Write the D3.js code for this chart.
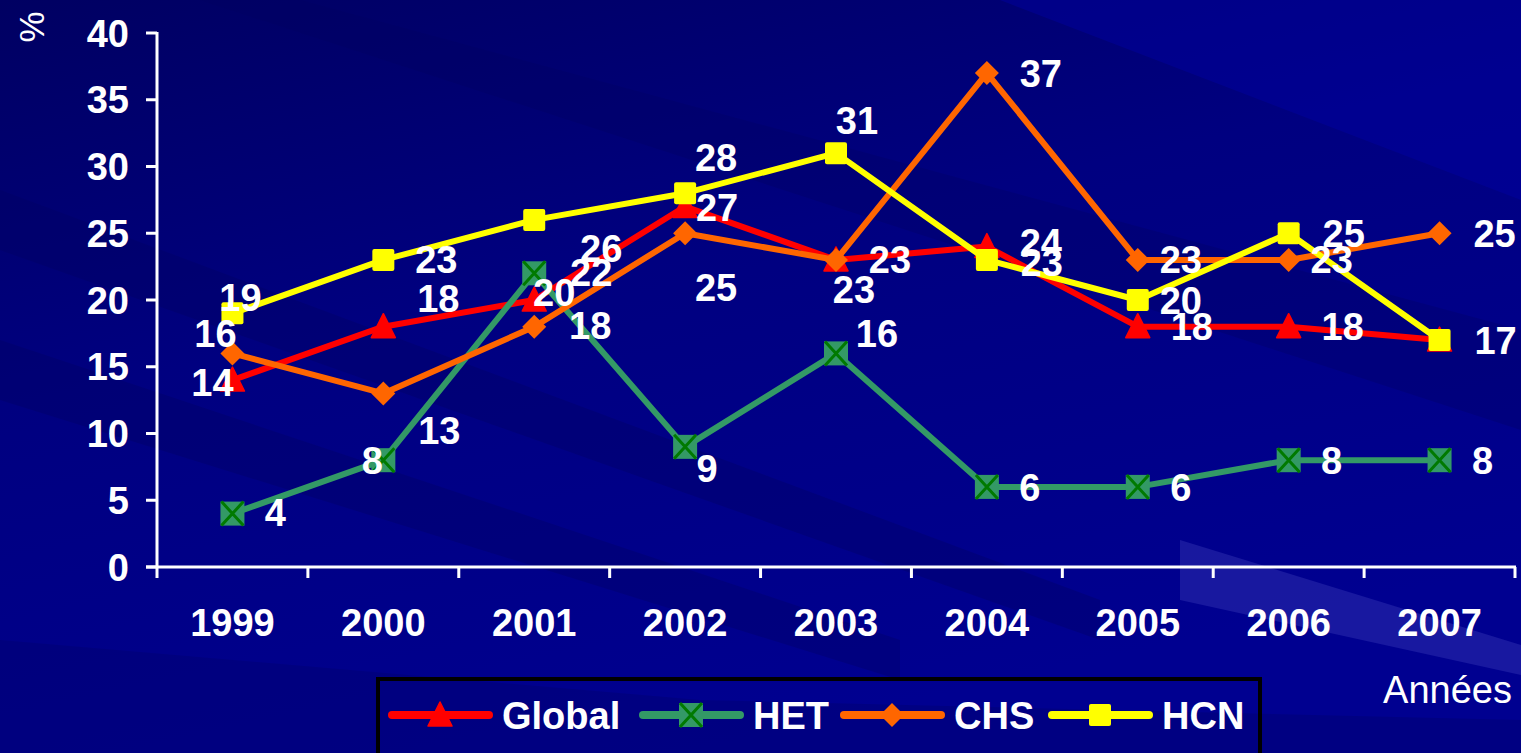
<!DOCTYPE html>
<html>
<head>
<meta charset="utf-8">
<script src="https://cdn.jsdelivr.net/npm/d3@7"></script>
<style>
  html, body { margin: 0; padding: 0; background: #000088; }
  svg { display: block; font-family: "Liberation Sans", Arial, sans-serif; }
  .tick-label { fill: #fff; font-weight: bold; font-size: 38px; }
  .val-label { fill: #fff; font-weight: bold; font-size: 38px; }
</style>
</head>
<body>
<svg id="chart"></svg>
<script>
// data
const years = ['1999', '2000', '2001', '2002', '2003', '2004', '2005', '2006', '2007']
const globalVals = [14, 18, 20, 27, 23, 24, 18, 18, 17]
const hetVals = [4, 8, 22, 9, 16, 6, 6, 8, 8]
const chsVals = [16, 13, 18, 25, 23, 37, 23, 23, 25]
const hcnVals = [19, 23, 26, 28, 31, 23, 20, 25, 17]
const yTicks = [0, 5, 10, 15, 20, 25, 30, 35, 40]

// label offsets (layout only), from point centre to label centre
const globalOff = [[-20, 2], [55, -28], [20, -8], [32, 1], [54, 0], [54, -4], [54, 0], [54, 0], [56, 0]]
const hetOff = [[43, -1], [-11, 0], [57, -1], [22, 22], [41, -20], [43, 1], [43, 1], [43, 0], [43, 0]]
const chsOff = [[-17, -20], [56, 37], [56, -1], [31, 54], [18, 30], [54, 0], [43, 0], [43, 0], [55, 0]]
const hcnOff = [[8, -16], [53, 0], [67, 29], [31, -36], [21, -33], [55, 3], [43, 0], [55, 0], null]

const W = 1521, H = 753
const svg = d3.select('#chart').attr('width', W).attr('height', H)

// background
const defs = svg.append('defs')
const grad = defs.append('linearGradient').attr('id', 'bg')
  .attr('x1', 0).attr('y1', 0).attr('x2', 0.45).attr('y2', 1)
grad.append('stop').attr('offset', '0%').attr('stop-color', '#000062')
grad.append('stop').attr('offset', '45%').attr('stop-color', '#000080')
grad.append('stop').attr('offset', '100%').attr('stop-color', '#000090')
svg.append('rect').attr('width', W).attr('height', H).attr('fill', 'url(#bg)')

const bands = [
  {pts: [[0, 190], [1100, 600], [1100, 640], [0, 250]], c: '#000060', o: 0.35},
  {pts: [[0, 340], [900, 640], [900, 680], [0, 400]], c: '#00005c', o: 0.3},
  {pts: [[300, 0], [1521, 330], [1521, 430], [200, 0]], c: '#000060', o: 0.3},
  {pts: [[1000, 0], [1521, 0], [1521, 200]], c: '#0000a8', o: 0.4},
  {pts: [[1180, 540], [1521, 645], [1521, 675], [1180, 600]], c: '#5050c8', o: 0.3},
  {pts: [[0, 770], [0, 640], [700, 700], [1521, 720], [1521, 770]], c: '#000070', o: 0.45}
]
bands.forEach(b => {
  svg.append('polygon')
    .attr('points', b.pts.map(p => p.join(',')).join(' '))
    .attr('fill', b.c).attr('opacity', b.o)
})

const x = d3.scaleBand().domain(years).range([157, 1515])
const y = d3.scaleLinear().domain([0, 40]).range([567, 33])
const cx = d => x(d) + x.bandwidth() / 2

// axes
const xAxis = svg.append('g').attr('transform', 'translate(0,567)')
xAxis.append('line').attr('x1', 146).attr('x2', 1516).attr('stroke', '#fff').attr('stroke-width', 3)
const xEdges = years.map(d => x(d)).concat([x.range()[1]])
xAxis.selectAll('.xt').data(xEdges).join('line')
  .attr('x1', d => d).attr('x2', d => d).attr('y1', 0).attr('y2', 11)
  .attr('stroke', '#fff').attr('stroke-width', 3)
xAxis.selectAll('.xl').data(years).join('text')
  .attr('class', 'tick-label')
  .attr('x', d => cx(d)).attr('y', 69)
  .attr('text-anchor', 'middle')
  .text(d => d)

const yAxis = svg.append('g')
yAxis.append('line').attr('x1', 157).attr('x2', 157).attr('y1', 32).attr('y2', 567)
  .attr('stroke', '#fff').attr('stroke-width', 3)
yAxis.selectAll('.yt').data(yTicks).join('line')
  .attr('x1', 146).attr('x2', 157).attr('y1', d => y(d)).attr('y2', d => y(d))
  .attr('stroke', '#fff').attr('stroke-width', 3)
yAxis.selectAll('.yl').data(yTicks).join('text')
  .attr('class', 'tick-label')
  .attr('x', 129).attr('y', d => y(d) + 13.5)
  .attr('text-anchor', 'end')
  .text(d => d)

svg.append('text')
  .attr('transform', 'translate(44,27) rotate(-90)')
  .attr('text-anchor', 'middle')
  .attr('fill', '#fff').attr('font-size', 35)
  .text('%')

svg.append('text')
  .attr('x', 1512).attr('y', 703)
  .attr('text-anchor', 'end')
  .attr('fill', '#fff').attr('font-size', 38)
  .text('Années')

// series
const series = [
  {name: 'Global', vals: globalVals, color: '#ff0000', marker: 'triangle', off: globalOff},
  {name: 'HET', vals: hetVals, color: '#339966', marker: 'xbox', off: hetOff},
  {name: 'CHS', vals: chsVals, color: '#ff6600', marker: 'diamond', off: chsOff},
  {name: 'HCN', vals: hcnVals, color: '#ffff00', marker: 'square', off: hcnOff}
]

function drawMarker(g, type, color, px, py) {
  if (type === 'triangle') {
    g.append('path').attr('d', `M${px},${py - 13} L${px + 12},${py + 11} L${px - 12},${py + 11} Z`)
      .attr('fill', color).attr('stroke', color).attr('stroke-width', 1.5).attr('stroke-linejoin', 'round')
  } else if (type === 'diamond') {
    g.append('path').attr('d', `M${px},${py - 12} L${px + 12},${py} L${px},${py + 12} L${px - 12},${py} Z`)
      .attr('fill', color)
  } else if (type === 'square') {
    g.append('rect').attr('x', px - 11).attr('y', py - 11).attr('width', 22).attr('height', 22)
      .attr('rx', 2).attr('fill', color)
  } else if (type === 'xbox') {
    g.append('rect').attr('x', px - 12).attr('y', py - 12).attr('width', 24).attr('height', 24)
      .attr('fill', color)
    g.append('path').attr('d', `M${px - 11},${py - 12} L${px + 11},${py + 12} M${px + 11},${py - 12} L${px - 11},${py + 12}`)
      .attr('stroke', '#007a00').attr('stroke-width', 3)
  }
}

const line = d3.line().x((d, i) => cx(years[i])).y(d => y(d))

series.forEach(s => {
  const g = svg.append('g')
  g.append('path')
    .attr('d', line(s.vals))
    .attr('fill', 'none')
    .attr('stroke', s.color)
    .attr('stroke-width', 6)
    .attr('stroke-linejoin', 'round')
  s.vals.forEach((v, i) => drawMarker(g, s.marker, s.color, cx(years[i]), y(v)))
})

// value labels on top
series.forEach(s => {
  s.vals.forEach((v, i) => {
    if (!s.off[i]) return
    svg.append('text')
      .attr('class', 'val-label')
      .attr('x', cx(years[i]) + s.off[i][0])
      .attr('y', y(v) + s.off[i][1] + 13.5)
      .attr('text-anchor', 'middle')
      .text(v)
  })
})

// legend
const leg = svg.append('g')
leg.append('rect').attr('x', 378).attr('y', 679).attr('width', 882).attr('height', 90)
  .attr('fill', 'none').attr('stroke', '#000').attr('stroke-width', 4)
const legX = [392, 643, 844, 1052]
series.forEach((s, i) => {
  const lx = legX[i], ly = 715
  leg.append('line').attr('x1', lx).attr('x2', lx + 97).attr('y1', ly).attr('y2', ly)
    .attr('stroke', s.color).attr('stroke-width', 8).attr('stroke-linecap', 'round')
  drawMarker(leg, s.marker, s.color, lx + 48, ly)
  leg.append('text').attr('x', lx + 110).attr('y', ly + 14)
    .attr('fill', '#fff').attr('font-weight', 'bold').attr('font-size', 38)
    .text(s.name)
})
</script>
</body>
</html>
